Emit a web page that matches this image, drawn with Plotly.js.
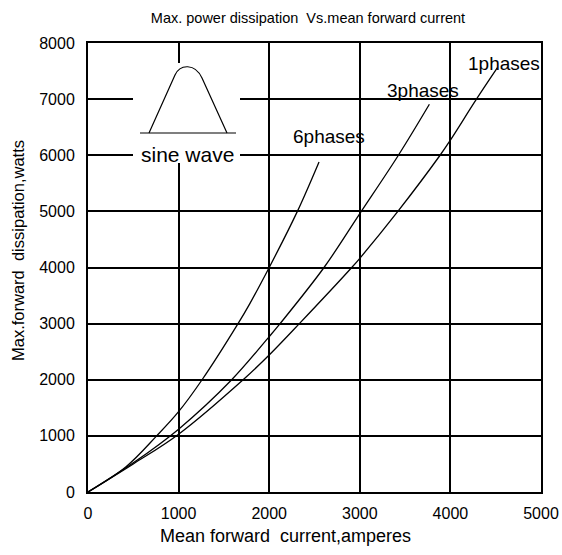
<!DOCTYPE html>
<html>
<head>
<meta charset="utf-8">
<script src="https://cdn.plot.ly/plotly-3.0.1.min.js"></script>
<style>html,body{margin:0;padding:0;background:#fff}#chart{width:562px;height:555px}</style>
</head>
<body>
<div id="chart"></div>
<script>
// Series data
const x6phases = [0, 420, 758, 1000, 1259, 1656, 1788, 2000, 2311, 2550];
const y6phases = [0, 450, 1000, 1431, 2000, 3000, 3362, 4000, 5000, 5880];
const x3phases = [0, 500, 1000, 1586, 2000, 2120, 2605, 3000, 3426, 3768];
const y3phases = [0, 520, 1120, 2000, 2768, 3000, 4000, 4960, 6000, 6908];
const x1phases = [0, 500, 1000, 1712, 2000, 2333, 2911, 3000, 3420, 3886, 4000, 4284, 4519];
const y1phases = [0, 500, 1030, 2000, 2441, 3000, 4000, 4164, 5000, 6000, 6270, 6990, 7560];
const seriesNames = ['6phases', '3phases', '1phases'];
const xTicks = [0, 1000, 2000, 3000, 4000, 5000];
const yTicks = [0, 1000, 2000, 3000, 4000, 5000, 6000, 7000, 8000];
const xTitle = 'Mean forward  current,amperes';
const yTitle = 'Max.forward  dissipation,watts';
const chartTitle = 'Max. power dissipation  Vs.mean forward current';

const FONT = 'Liberation Sans, Arial, sans-serif';
// plot area geometry (pixels) used to place decorative inset and titles
const L = 88, T = 43, W = 453, H = 449;
const XMAX = 5000, YMAX = 8000;
const dx = p => (p - L) / W * XMAX;
const dy = p => (T + H - p) / H * YMAX;
const px = p => (p - L) / W;
const py = p => (T + H - p) / H;

const line = {color: '#000', width: 1.3, shape: 'spline', smoothing: 1};
const traces = [
  {x: x6phases, y: y6phases, name: seriesNames[0], mode: 'lines', line: line, hoverinfo: 'x+y'},
  {x: x3phases, y: y3phases, name: seriesNames[1], mode: 'lines', line: line, hoverinfo: 'x+y'},
  {x: x1phases, y: y1phases, name: seriesNames[2], mode: 'lines', line: line, hoverinfo: 'x+y'}
];

const sinePath = 'M' + dx(149) + ',' + dy(133) +
  ' L' + dx(175) + ',' + dy(75) +
  ' C' + dx(180) + ',' + dy(64) + ' ' + dx(195) + ',' + dy(63) + ' ' + dx(202) + ',' + dy(78) +
  ' L' + dx(227) + ',' + dy(133);

const layout = {
  width: 562, height: 555,
  margin: {l: L, r: 562 - L - W, t: T, b: 555 - T - H},
  paper_bgcolor: '#fff', plot_bgcolor: '#fff',
  showlegend: false,
  font: {family: FONT, color: '#000', size: 16},
  title: {text: chartTitle,
          font: {family: 'Liberation Sans Narrow, ' + FONT, size: 14.5, color: '#000'},
          x: 0.548, xanchor: 'center', y: 0.967, yanchor: 'middle'},
  xaxis: {range: [0, XMAX], tickvals: xTicks, ticktext: xTicks.map(String),
          showgrid: true, gridcolor: '#000', gridwidth: 2,
          showline: true, linecolor: '#000', linewidth: 2, mirror: true,
          ticks: '', ticklabelstandoff: 6, zeroline: false,
          tickfont: {size: 16, color: '#000'}},
  yaxis: {range: [0, YMAX], tickvals: yTicks, ticktext: yTicks.map(String),
          showgrid: true, gridcolor: '#000', gridwidth: 2,
          showline: true, linecolor: '#000', linewidth: 2, mirror: true,
          ticks: '', ticklabelstandoff: 8, zeroline: false,
          tickfont: {size: 16, color: '#000'}},
  shapes: [
    {type: 'rect', xref: 'x', yref: 'y', x0: dx(133), x1: dx(240), y0: dy(163), y1: dy(63),
     fillcolor: '#fff', line: {width: 0}, layer: 'above'},
    {type: 'line', xref: 'x', yref: 'y', x0: dx(140), x1: dx(236), y0: dy(133), y1: dy(133),
     line: {color: '#000', width: 1.2}, layer: 'above'},
    {type: 'path', xref: 'x', yref: 'y', path: sinePath,
     line: {color: '#000', width: 1.2}, layer: 'above'}
  ],
  annotations: [
    {text: xTitle, xref: 'paper', yref: 'paper', x: px(285), y: py(536), showarrow: false,
     font: {size: 18, color: '#000'}, xanchor: 'center', yanchor: 'middle'},
    {text: yTitle, xref: 'paper', yref: 'paper', x: px(18), y: py(251), showarrow: false,
     textangle: -90, font: {size: 16.5, color: '#000'}, xanchor: 'center', yanchor: 'middle'},
    {text: 'sine wave', xref: 'x', yref: 'y', x: dx(187), y: dy(154), showarrow: false,
     font: {size: 21, color: '#000'}, xanchor: 'center', yanchor: 'middle'},
    {text: seriesNames[0], xref: 'x', yref: 'y', x: dx(329), y: dy(136), showarrow: false,
     font: {size: 19, color: '#000'}, xanchor: 'center', yanchor: 'middle'},
    {text: seriesNames[1], xref: 'x', yref: 'y', x: dx(423), y: dy(90), showarrow: false,
     font: {size: 19, color: '#000'}, xanchor: 'center', yanchor: 'middle'},
    {text: seriesNames[2], xref: 'x', yref: 'y', x: dx(504), y: dy(63), showarrow: false,
     font: {size: 19, color: '#000'}, xanchor: 'center', yanchor: 'middle'}
  ]
};

Plotly.newPlot('chart', traces, layout, {displayModeBar: false, staticPlot: true});
</script>
</body>
</html>
